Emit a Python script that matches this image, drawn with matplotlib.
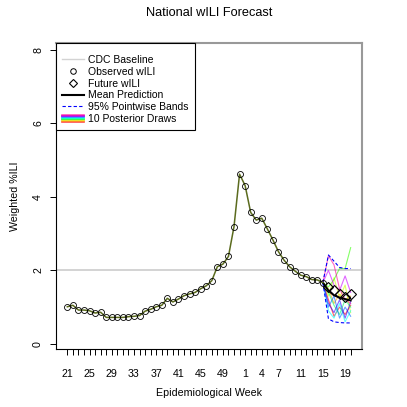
import matplotlib
matplotlib.use('Agg')
import matplotlib.pyplot as plt
from matplotlib.lines import Line2D
from matplotlib.legend_handler import HandlerBase

plt.rcParams['font.family'] = ['Liberation Sans', 'DejaVu Sans']

# epidemiological weeks, 2013 wk 21 .. 2014 wk 20
weeks = list(range(21, 53)) + list(range(1, 21))
shown_labels = [21, 25, 29, 33, 37, 41, 45, 49, 1, 4, 7, 11, 15, 19]

observed = [1.01, 1.05, 0.92, 0.92, 0.90, 0.84, 0.86, 0.72, 0.72, 0.72,
            0.72, 0.74, 0.75, 0.77, 0.89, 0.94, 1.01, 1.05, 1.24, 1.14,
            1.22, 1.31, 1.36, 1.40, 1.50, 1.58, 1.72, 2.10, 2.17, 2.38,
            3.19, 4.62, 4.31, 3.58, 3.37, 3.42, 3.13, 2.83, 2.51, 2.28,
            2.10, 1.98, 1.87, 1.83, 1.75, 1.74, 1.67]
future = [1.55, 1.46, 1.36, 1.28, 1.37]

baseline = 2.0

mean_pred = [1.67, 1.45, 1.32, 1.26, 1.22, 1.18]
band_upper = [1.67, 2.42, 2.25, 2.08, 2.05, 2.05]
band_lower = [1.67, 0.68, 0.60, 0.58, 0.57, 0.57]

draws = [
    [1.67, 1.20, 0.75, 1.00, 0.80, 1.05],
    [1.67, 1.50, 1.10, 1.35, 1.20, 1.30],
    [1.67, 1.30, 1.80, 1.25, 1.60, 0.85],
    [1.67, 1.55, 1.75, 2.05, 2.05, 2.62],
    [1.67, 1.40, 1.05, 0.80, 1.20, 1.00],
    [1.67, 0.90, 0.70, 1.10, 0.60, 0.90],
    [1.67, 1.00, 1.30, 0.70, 1.00, 0.75],
    [1.67, 1.10, 0.85, 1.20, 0.70, 1.15],
    [1.67, 2.00, 1.60, 1.45, 1.85, 1.40],
    [1.67, 2.40, 2.15, 1.50, 1.20, 1.10],
]
draw_colors = ['#FF0000', '#FF9900', '#CCFF00', '#33FF00', '#00FF66',
               '#00FFFF', '#0066FF', '#3300FF', '#CC00FF', '#FF0099']

FS = 7.7


class StackedLines(HandlerBase):
    def create_artists(self, legend, orig_handle, xdescent, ydescent,
                       width, height, fontsize, trans):
        out = []
        n = len(draw_colors)
        for k, c in enumerate(draw_colors):
            yy = -ydescent + height * (k + 0.5) / n
            out.append(Line2D([-xdescent, -xdescent + width], [yy, yy],
                              color=c, lw=1.2, alpha=0.7, transform=trans))
        return out


fig = plt.figure(figsize=(4.07, 4.07), dpi=100)
ax = fig.add_axes([56 / 407, 58 / 407, 306 / 407, 306 / 407])

x_obs = list(range(len(observed)))
start = len(observed) - 1
x_fc = list(range(start, start + len(mean_pred)))
x_fut = list(range(len(observed), len(observed) + len(future)))

ax.axhline(baseline, color='#D3D3D3', lw=1.4, zorder=1)

for d, c in zip(draws, draw_colors):
    ax.plot(x_fc, d, color=c, lw=0.8, alpha=0.6, zorder=2)
ax.plot(x_fc, band_upper, color='blue', ls=(0, (3, 2)), lw=0.8, zorder=3)
ax.plot(x_fc, band_lower, color='blue', ls=(0, (3, 2)), lw=0.8, zorder=3)
ax.plot(x_fc, mean_pred, color='black', lw=1.4, zorder=4)

ax.plot(x_obs, observed, color='#5B6B1E', lw=1.1, zorder=4)
ax.plot(x_obs, observed, ls='none', marker='o', ms=4.3, mfc='none',
        mec='black', mew=0.6, zorder=5)
ax.plot(x_fut, future, ls='none', marker='D', ms=5, mfc='none',
        mec='black', mew=0.8, zorder=5)

ax.set_xlim(-2.04, len(weeks) - 1 + 2.04)
ax.set_ylim(-0.14, 8.19)

ax.set_xticks(range(len(weeks)))
labels = []
used = []
for i, w in enumerate(weeks):
    # week numbers repeat across years, label each once in order
    if w in shown_labels and shown_labels.index(w) == len(used):
        labels.append(str(w))
        used.append(w)
    else:
        labels.append('')
ax.set_xticklabels(labels)
ax.set_yticks([0, 2, 4, 6, 8])
ax.set_yticklabels(['0', '2', '4', '6', '8'], rotation=90, va='center')
ax.tick_params(axis='both', length=4.3, width=0.7, labelsize=FS)
ax.tick_params(axis='x', pad=10)
ax.tick_params(axis='y', pad=5)

for s in ['left', 'bottom']:
    ax.spines[s].set_color('black')
    ax.spines[s].set_linewidth(0.8)
for s in ['top', 'right']:
    ax.spines[s].set_color('#999999')
    ax.spines[s].set_linewidth(1.5)

ax.text(0.5, -0.144, 'Epidemiological Week', transform=ax.transAxes,
        ha='center', va='center', fontsize=FS)
ax.text(-0.134, 0.5, 'Weighted %ILI', transform=ax.transAxes,
        ha='center', va='center', rotation=90, fontsize=FS)
fig.text(209 / 407, 1 - 13 / 407, 'National wILI Forecast',
         ha='center', va='center', fontsize=9.2)

handles = [
    Line2D([], [], color='#D3D3D3', lw=1.0),
    Line2D([], [], ls='none', marker='o', ms=4, mfc='none', mec='black', mew=0.7),
    Line2D([], [], ls='none', marker='D', ms=4.5, mfc='none', mec='black', mew=0.8),
    Line2D([], [], color='black', lw=1.5),
    Line2D([], [], color='blue', ls=(0, (3, 2)), lw=0.8),
    'draws',
]
names = ['CDC Baseline', 'Observed wILI', 'Future wILI', 'Mean Prediction',
         '95% Pointwise Bands', '10 Posterior Draws']
leg = ax.legend(handles, names, loc='upper left', borderaxespad=0,
                fontsize=7.5, frameon=True, fancybox=False, framealpha=1,
                edgecolor='black', handlelength=2.1, handletextpad=0.4,
                labelspacing=0.17, borderpad=0.6, title=' ',
                title_fontsize=3, handler_map={str: StackedLines()})
leg.get_frame().set_linewidth(0.8)

plt.savefig('out.png', dpi=100)
